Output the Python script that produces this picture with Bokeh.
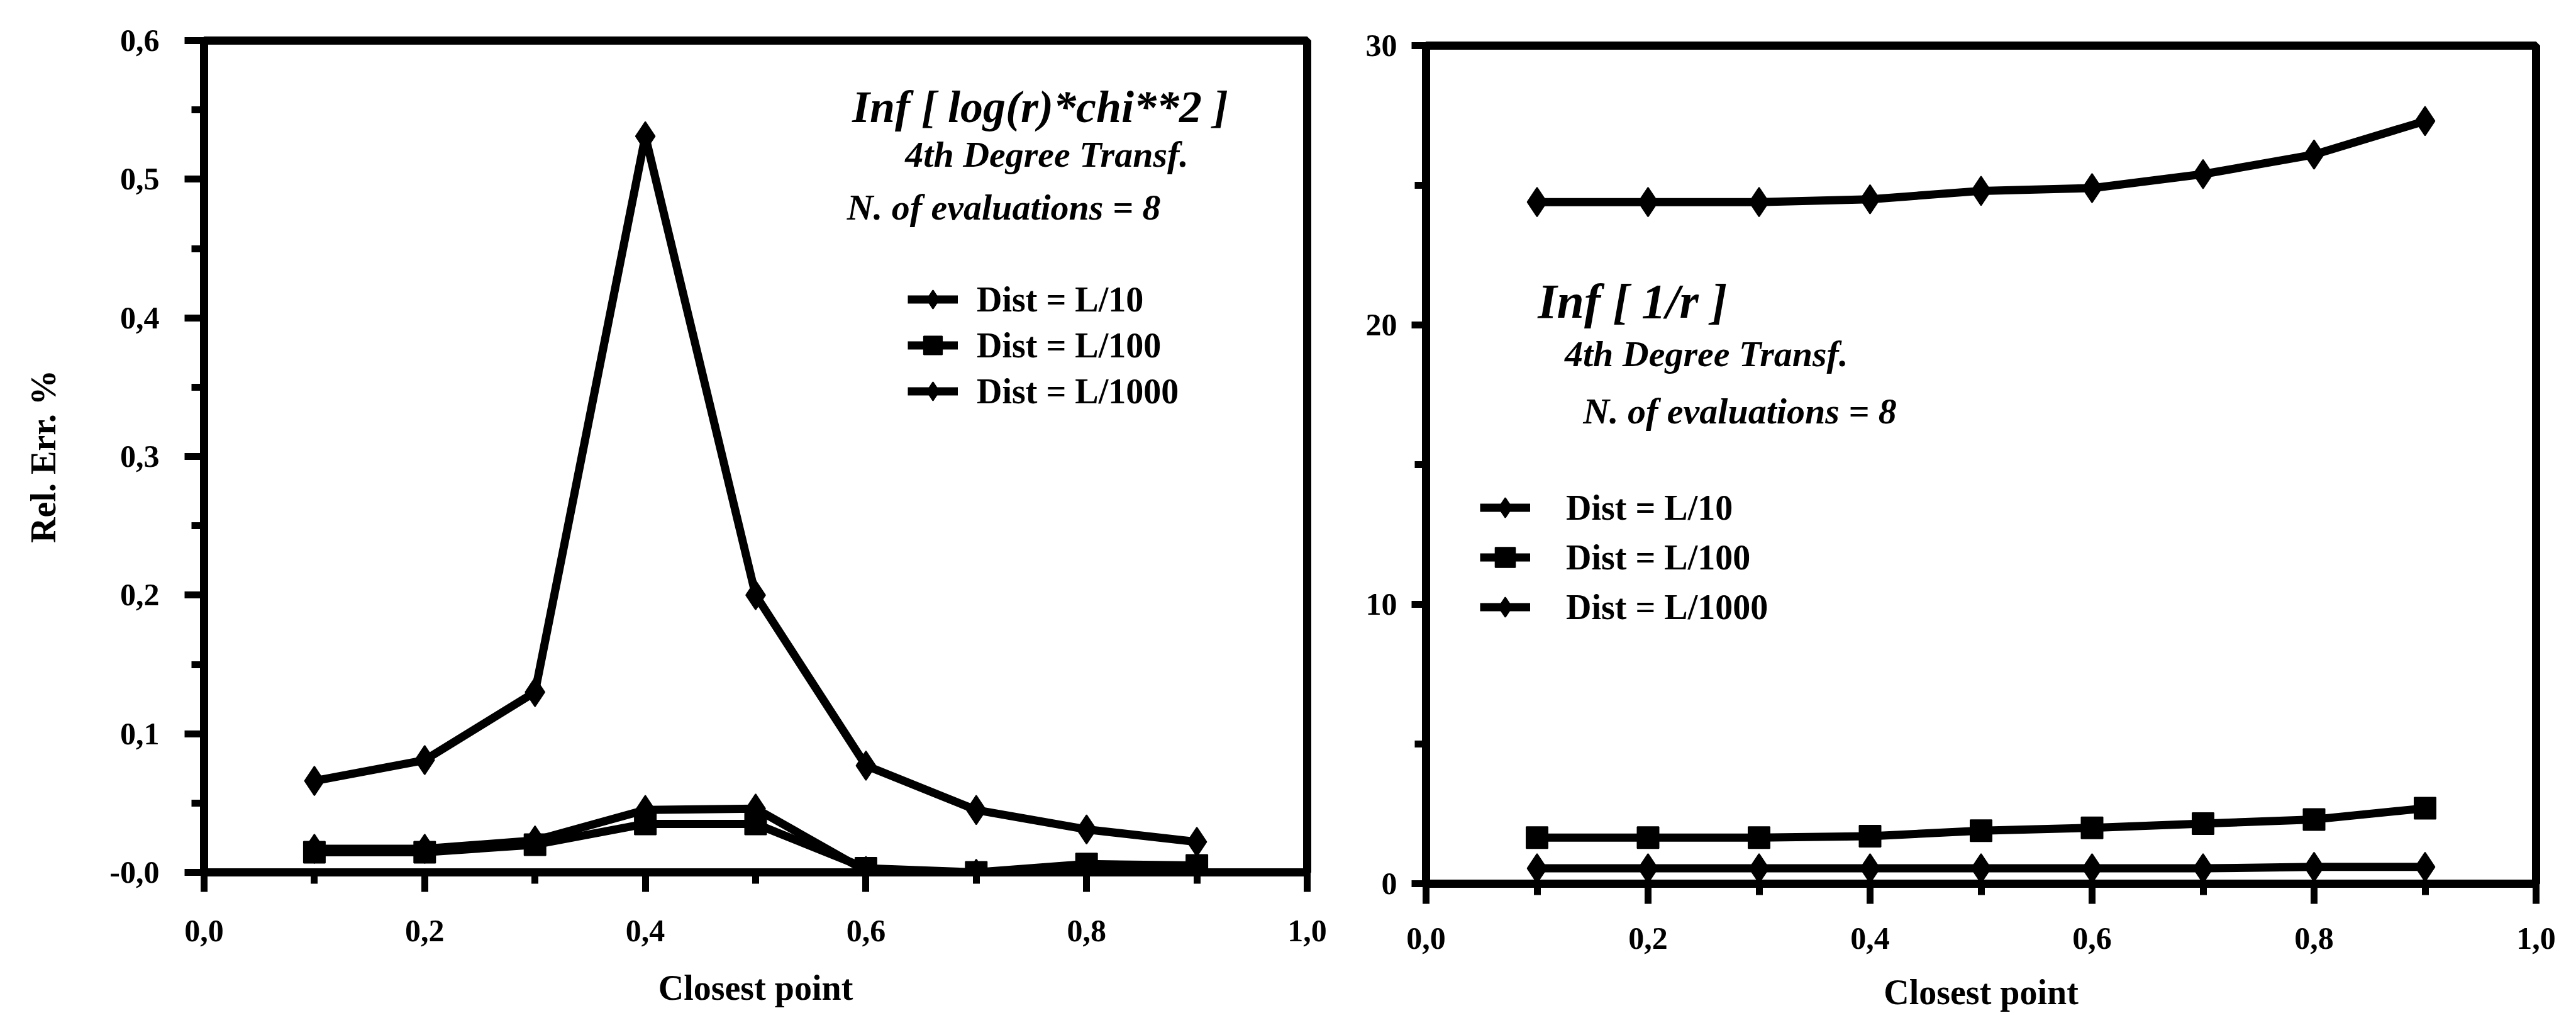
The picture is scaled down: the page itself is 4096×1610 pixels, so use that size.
from bokeh.plotting import figure
from bokeh.layouts import row, column
from bokeh.models import Range1d, FixedTicker, Label, Legend, LegendItem
from bokeh.embed import file_html
from bokeh.resources import INLINE

# ---------------- data ----------------
CLOSEST = [0.1, 0.2, 0.3, 0.4, 0.5, 0.6, 0.7, 0.8, 0.9]
SERIES_NAMES = ["Dist = L/10", "Dist = L/100", "Dist = L/1000"]

# left panel: Inf [ log(r)*chi**2 ]  (Rel. Err. %)
LEFT_L10 = [0.066, 0.081, 0.130, 0.531, 0.200, 0.077, 0.045, 0.031, 0.022]
LEFT_L100 = [0.0145, 0.0145, 0.020, 0.035, 0.035, 0.003, 0.000, 0.006, 0.005]
LEFT_L1000 = [0.017, 0.017, 0.023, 0.045, 0.046, 0.001, -0.001, -0.001, -0.001]

# right panel: Inf [ 1/r ]
RIGHT_L10 = [24.4, 24.4, 24.4, 24.5, 24.8, 24.9, 25.4, 26.1, 27.3]
RIGHT_L100 = [1.65, 1.65, 1.65, 1.7, 1.9, 2.0, 2.15, 2.3, 2.7]
RIGHT_L1000 = [0.55, 0.55, 0.55, 0.55, 0.55, 0.55, 0.55, 0.6, 0.6]

X_TICKS = [0.0, 0.2, 0.4, 0.6, 0.8, 1.0]
X_TICK_LABELS = ["0,0", "0,2", "0,4", "0,6", "0,8", "1,0"]
X_MINOR = [0.1, 0.3, 0.5, 0.7, 0.9]

LEFT_Y_TICKS = [0.0, 0.1, 0.2, 0.3, 0.4, 0.5, 0.6]
LEFT_Y_LABELS = ["-0,0", "0,1", "0,2", "0,3", "0,4", "0,5", "0,6"]
LEFT_Y_MINOR = [0.05, 0.15, 0.25, 0.35, 0.45, 0.55]

RIGHT_Y_TICKS = [0, 10, 20, 30]
RIGHT_Y_LABELS = ["0", "10", "20", "30"]
RIGHT_Y_MINOR = [5, 15, 25]

LEFT_TEXTS = ["Inf [ log(r)*chi**2 ]", "4th Degree Transf.", "N. of evaluations = 8"]
RIGHT_TEXTS = ["Inf [ 1/r ]", "4th Degree Transf.", "N. of evaluations = 8"]
X_TITLE = "Closest point"
Y_TITLE = "Rel. Err. %"

# ---------------- style ----------------
SERIF = "Liberation Serif"
LW = 13
H = 1610


def style_axis(ax, tick_out, minor_out, standoff, title_standoff):
    ax.axis_line_width = LW
    ax.axis_line_color = "black"
    ax.major_tick_line_width = 11
    ax.minor_tick_line_width = 11
    ax.major_tick_in = 0
    ax.minor_tick_in = 0
    ax.major_tick_out = tick_out
    ax.minor_tick_out = minor_out
    ax.major_label_standoff = standoff
    ax.major_label_text_font = SERIF
    ax.major_label_text_font_style = "bold"
    ax.major_label_text_font_size = "50px"
    ax.major_label_text_color = "black"
    ax.axis_label_text_font = SERIF
    ax.axis_label_text_font_style = "bold"
    ax.axis_label_text_font_size = "56px"
    ax.axis_label_text_color = "black"
    ax.axis_label_standoff = title_standoff


def make_panel(width, ymax, borders, yticks, ylabels, yminor, ystyle, xstyle):
    left, right, top, bottom = borders
    p = figure(width=width, height=H, x_range=Range1d(0, 1), y_range=Range1d(0, ymax),
               output_backend="svg", toolbar_location=None,
               min_border_left=left, min_border_right=right,
               min_border_top=top, min_border_bottom=bottom)
    p.grid.visible = False
    p.outline_line_color = "black"
    p.outline_line_width = LW
    p.background_fill_color = "white"
    p.border_fill_color = "white"
    p.xaxis.ticker = FixedTicker(ticks=X_TICKS, minor_ticks=X_MINOR)
    p.xaxis.major_label_overrides = dict(zip(X_TICKS, X_TICK_LABELS))
    p.yaxis.ticker = FixedTicker(ticks=yticks, minor_ticks=yminor)
    p.yaxis.major_label_overrides = dict(zip(yticks, ylabels))
    style_axis(p.xaxis[0], *xstyle)
    style_axis(p.yaxis[0], *ystyle)
    p.xaxis.axis_label = X_TITLE
    return p


def add_series(p, series, legend_geom):
    items = []
    for name, ys, kind in zip(SERIES_NAMES, series, ["diamond", "square", "diamond"]):
        lr = p.line(CLOSEST, ys, line_color="black", line_width=LW, line_join="round")
        if kind == "diamond":
            sr = p.scatter(CLOSEST, ys, marker="diamond", size=46,
                           fill_color="black", line_color="black", line_width=2)
        else:
            sr = p.scatter(CLOSEST, ys, marker="square", size=34,
                           fill_color="black", line_color="black", line_width=2)
        items.append(LegendItem(label=name, renderers=[lr, sr]))
    vx, vy, standoff, gh = legend_geom
    leg = Legend(items=items, location=(vx, vy), padding=0, margin=0,
                 spacing=0, glyph_width=80, glyph_height=gh,
                 label_standoff=standoff, label_text_font=SERIF,
                 label_text_font_style="bold", label_text_font_size="56px",
                 label_text_color="black", border_line_alpha=0,
                 background_fill_alpha=0)
    p.add_layout(leg)


def add_texts(p, texts, coords, sizes):
    for t, (x, y), s in zip(texts, coords, sizes):
        p.add_layout(Label(x=x, y=y, text=t, text_align="center", text_baseline="middle",
                           text_font=SERIF, text_font_style="bold italic",
                           text_font_size=s, text_color="black"))


# ---------------- left panel ----------------
pl = make_panel(2128, 0.6, (324, 50, 64, 224), LEFT_Y_TICKS, LEFT_Y_LABELS, LEFT_Y_MINOR,
                (31, 20, 40, 71), (31, 18, 45, 40))
pl.yaxis.axis_label = Y_TITLE
add_series(pl, [LEFT_L10, LEFT_L100, LEFT_L1000], (1119, 728, 30, 73))
add_texts(pl, LEFT_TEXTS, [(0.758, 0.5519), (0.764, 0.5177), (0.725, 0.4799)],
          ["72px", "58px", "58px"])

# ---------------- right panel ----------------
pr = make_panel(1968, 30, (139, 64, 72, 200), RIGHT_Y_TICKS, RIGHT_Y_LABELS, RIGHT_Y_MINOR,
                (23, 18, 23, 0), (32, 18, 38, 35))
add_series(pr, [RIGHT_L10, RIGHT_L100, RIGHT_L1000], (86, 400, 57, 79))
add_texts(pr, RIGHT_TEXTS, [(0.186, 20.85), (0.2525, 18.96), (0.2827, 16.91)],
          ["78px", "58px", "58px"])

layout = row(pl, column(pr, spacing=0), spacing=0)
open("out.html", "w").write(file_html(layout, INLINE))
